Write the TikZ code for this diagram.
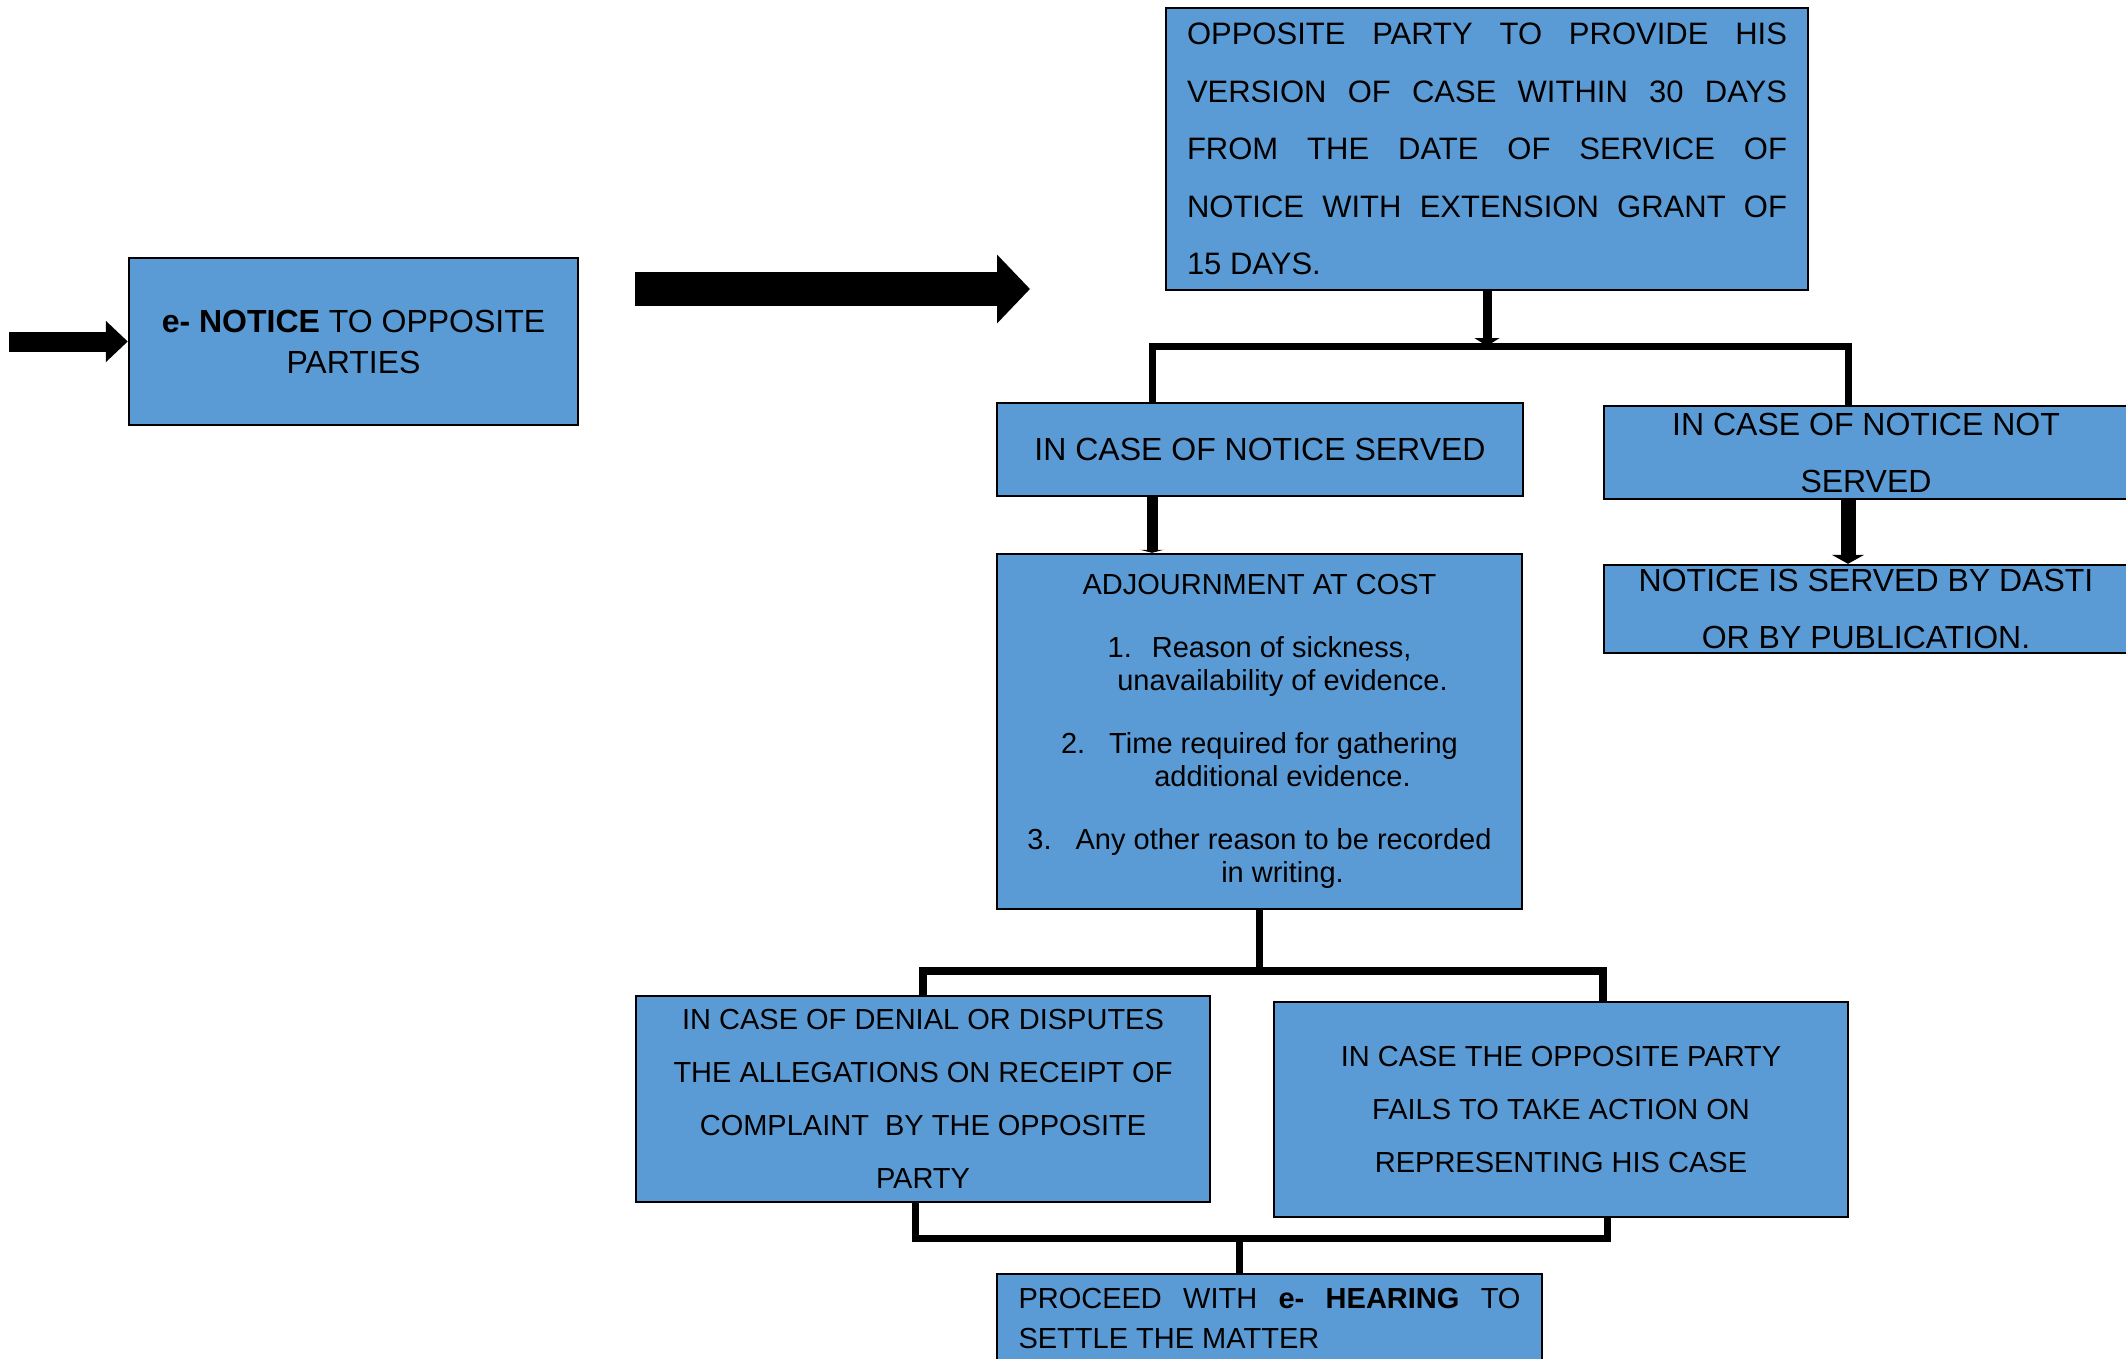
\documentclass[tikz,border=0pt]{standalone}
\usepackage{fontspec}
\setmainfont{Liberation Sans}
\usetikzlibrary{arrows.meta}
\definecolor{boxblue}{HTML}{5B9BD5}
\def\boxfont#1#2{\fontsize{#1}{#2}\selectfont}
\def\spread#1#2{\makebox[#1][s]{#2}}

\begin{document}
\begin{tikzpicture}[x=0.5pt, y=-0.5pt,
   box/.style={draw, line width=1.2pt, fill=boxblue, inner sep=0pt, align=center},
   bar/.style={line width=3.5pt, line join=miter}]
   \useasboundingbox (0,0) rectangle (2126,1359);
   %\draw[help lines] (0,0) grid[step=100] (2126,1359);
   \node[box, minimum width=224.5pt, minimum height=83.5pt, font=\boxfont{16}{20.5}] (notice) at (353.5,341.5)
      {\textbf{e- NOTICE} TO OPPOSITE\\PARTIES};
   \node[box, align=left, minimum width=321pt, minimum height=141pt, font=\boxfont{15.5}{28.75}] (top) at (1487,149)
      {\spread{300pt}{OPPOSITE PARTY TO PROVIDE HIS}\\
       \spread{300pt}{VERSION OF CASE WITHIN 30 DAYS}\\
       \spread{300pt}{FROM THE DATE OF SERVICE OF}\\
       \spread{300pt}{NOTICE WITH EXTENSION GRANT OF}\\
       15 DAYS.};
   \node[box, minimum width=263pt, minimum height=46.5pt, font=\boxfont{16}{20}] (served) at (1260,449.5)
      {IN CASE OF NOTICE SERVED};
   \node[box, minimum width=262pt, minimum height=46.5pt, font=\boxfont{16}{28.5}] (notserved) at (1866,452.5)
      {IN CASE OF NOTICE NOT\\SERVED};
   \node[box, minimum width=262pt, minimum height=44pt, font=\boxfont{16}{28.5}] (dasti) at (1866,609)
      {NOTICE IS SERVED BY DASTI\\OR BY PUBLICATION.};
   \node[box, minimum width=262.5pt, minimum height=177.5pt, font=\boxfont{14.5}{16.5}] (adjourn) at (1259.5,731.5)
      {ADJOURNMENT AT COST\\[15pt]
       1.\hspace{10pt}Reason of sickness,\\
       \hspace*{23pt}unavailability of evidence.\\[15pt]
       2.\hspace{12pt}Time required for gathering\\
       \hspace*{23pt}additional evidence.\\[15pt]
       3.\hspace{12pt}Any other reason to be recorded\\
       \hspace*{23pt}in writing.};
   \node[box, minimum width=287pt, minimum height=103pt, font=\boxfont{14.5}{26.5}] (denial) at (923,1099)
      {IN CASE OF DENIAL OR DISPUTES\\THE ALLEGATIONS ON RECEIPT OF\\COMPLAINT\ \ BY THE OPPOSITE\\PARTY};
   \node[box, minimum width=287pt, minimum height=107.5pt, font=\boxfont{14.5}{26.5}] (fails) at (1561,1109.5)
      {IN CASE THE OPPOSITE PARTY\\FAILS TO TAKE ACTION ON\\REPRESENTING HIS CASE};
   \node[box, align=left, minimum width=272.5pt, minimum height=45pt, font=\boxfont{14.5}{20}] (proceed) at (1269.5,1319)
      {\spread{251pt}{PROCEED WITH \textbf{e- HEARING} TO}\\SETTLE THE MATTER};

   % block arrows
   \coordinate (start) at (9,341.5);
   \draw[line width=10pt, -{Triangle[width=20pt,length=11pt]}] (start) -- (notice.west);
   \coordinate (gapL) at (635,289);
   \coordinate (gapR) at (1030,289);
   \draw[line width=17pt, -{Triangle[width=33.5pt,length=16.5pt]}] (gapL) -- (gapR);

   % notice served or not
   \coordinate (forkL) at (1152,346);
   \coordinate (forkR) at (1848,346);
   \draw[line width=4.5pt, -{Triangle[width=12.5pt,length=4pt]}] (top.south) -- (top.south |- forkL);
   \draw[bar] (forkL |- served.north) -- (forkL) -- (forkR) -- (forkR |- notserved.north);
   \draw[line width=5.5pt, -{Triangle[width=11.5pt,length=1.5pt]}] (forkL |- served.south) -- (forkL |- adjourn.north);
   \draw[line width=7.5pt, -{Triangle[width=16pt,length=4.5pt]}] (forkR |- notserved.south) -- (forkR |- dasti.north);

   % after adjournment
   \coordinate (splitR) at (1603,971);
   \draw[bar] (adjourn.south) -- (adjourn.south |- splitR);
   \draw[bar, line width=4pt] (denial.north) -- (denial.north |- splitR) -- (splitR) -- (splitR |- fails.north);
   \coordinate (mergeL) at (915,1238);
   \coordinate (mergeR) at (1607,1238);
   \coordinate (mergeM) at (1239,1238);
   \draw[bar] (mergeL |- denial.south) -- (mergeL) -- (mergeR) -- (mergeR |- fails.south);
   \draw[bar] (mergeM) -- (mergeM |- proceed.north);
\end{tikzpicture}
\end{document}
